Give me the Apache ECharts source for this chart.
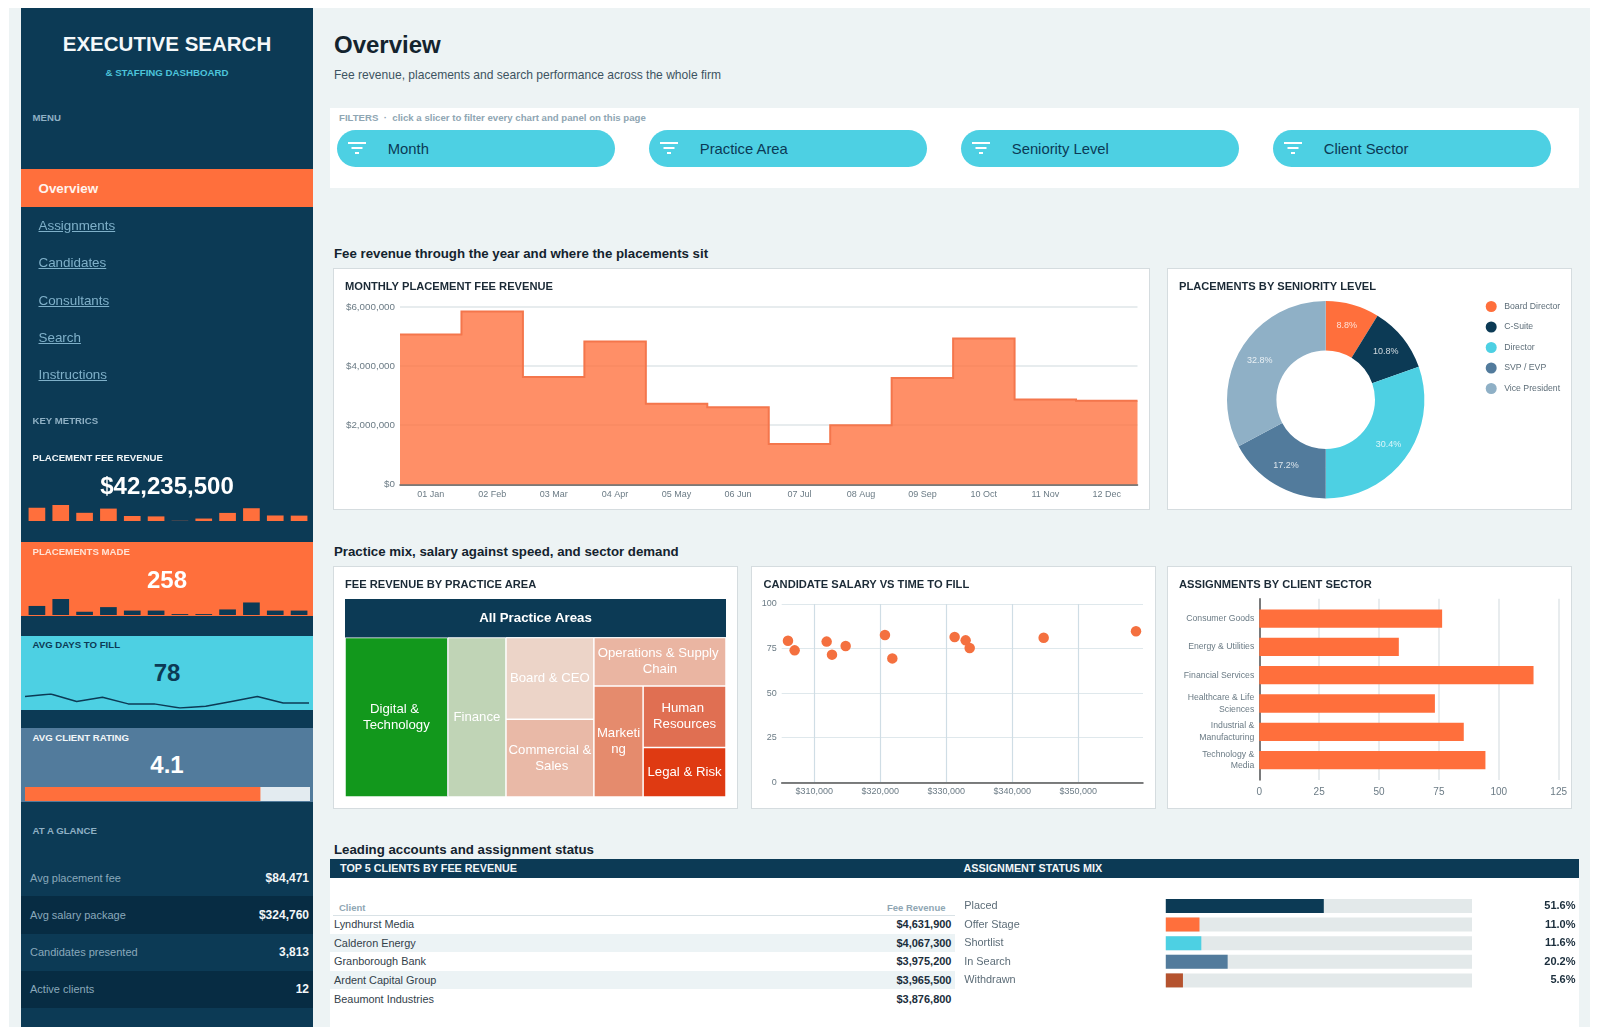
<!DOCTYPE html>
<html lang="en">
  <head>
    <meta charset="UTF-8" />
    <title>Executive Search Dashboard</title>
    <script src="https://cdn.jsdelivr.net/npm/echarts@6/dist/echarts.min.js"></script>
    <style>
      html,
      body {
        margin: 0;
        padding: 0;
        width: 1600px;
        height: 1036px;
        overflow: hidden;
        background: #fff;
        font-family: "Liberation Sans", Arial, sans-serif;
      }
      .box {
        position: absolute;
        box-sizing: border-box;
      }
      .chart {
        position: absolute;
      }
      /* line-height 0 puts the text's middle on "top", easier to line up */
      .t {
        position: absolute;
        line-height: 0;
        white-space: nowrap;
        z-index: 5;
      }
      .b {
        font-weight: bold;
      }
      .card {
        background: #fff;
        border: 1.5px solid #d5dcdf;
      }
      .cardtitle {
        font-size: 11.15px;
        font-weight: bold;
        color: #1b2a36;
      }
      .section {
        left: 334px;
        font-size: 13.25px;
        font-weight: bold;
        color: #14232e;
      }
      .navlink {
        left: 38.5px;
        font-size: 13.4px;
        color: #7fb0c9;
        text-decoration: underline;
      }
      .side {
        left: 32.5px;
        font-size: 9.65px;
        font-weight: bold;
        color: #8fb0c4;
      }
      .kpi {
        left: 21px;
        width: 292px;
        text-align: center;
        font-size: 24px;
        font-weight: bold;
        color: #fff;
      }
      .pill {
        background: #4dd0e3;
        border-radius: 19px;
        height: 37px;
        top: 130px;
        width: 278px;
      }
      .pilltext {
        top: 148.5px;
        font-size: 14.8px;
        color: #0b3a56;
      }
      .glabel {
        left: 30px;
        font-size: 11px;
        color: #8aa9bb;
      }
      .gvalue {
        right: 1291px;
        font-size: 12px;
        font-weight: bold;
        color: #f2f6f8;
      }
      .rowname {
        left: 334px;
        font-size: 10.9px;
        color: #33414a;
      }
      .rowvalue {
        right: 648.5px;
        font-size: 11px;
        font-weight: bold;
        color: #1b2e3c;
      }
    </style>
  </head>

  <body>
    <!-- page and sidebar -->
    <div class="box" style="left: 9px; top: 8px; width: 1581px; height: 1019px; background: #edf3f4"></div>
    <div class="box" style="left: 21px; top: 8px; width: 292px; height: 1019px; background: #0c3a55"></div>
    <div class="t b" style="left: 21px; width: 292px; text-align: center; top: 44px; font-size: 20.5px; color: #f4f8fa">EXECUTIVE SEARCH</div>
    <div class="t b" style="left: 21px; width: 292px; text-align: center; top: 73px; font-size: 9.7px; color: #4dc4da">&amp; STAFFING DASHBOARD</div>
    <div class="t side" style="top: 117.5px">MENU</div>
    <div class="box" style="left: 21px; top: 169px; width: 292px; height: 38px; background: #ff6f3c"></div>
    <div class="t b" style="left: 38.5px; top: 188.5px; font-size: 13.4px; color: #fff3ec">Overview</div>
    <div id="nav"></div>

    <div class="t side" style="top: 420.5px">KEY METRICS</div>
    <div class="t side" style="top: 458px; color: #f2f6f8">PLACEMENT FEE REVENUE</div>
    <div class="t kpi" style="top: 486px">$42,235,500</div>
    <div class="chart" id="sparkRevenue" style="left: 24.5px; top: 505px; width: 285.6px; height: 16px"></div>

    <div class="box" style="left: 21px; top: 541.6px; width: 292px; height: 74.6px; background: #ff6f3c"></div>
    <div class="t side" style="top: 552px; color: #ffe3d6">PLACEMENTS MADE</div>
    <div class="t kpi" style="top: 580px">258</div>
    <div class="chart" id="sparkPlacements" style="left: 24.5px; top: 598.5px; width: 285.6px; height: 16px"></div>

    <div class="box" style="left: 21px; top: 635.5px; width: 292px; height: 74px; background: #4dd0e3"></div>
    <div class="t side" style="top: 644.5px; color: #0c3a55">AVG DAYS TO FILL</div>
    <div class="t kpi" style="top: 672.5px; color: #0c3a55">78</div>
    <div class="chart" id="sparkDays" style="left: 24.7px; top: 690px; width: 284.3px; height: 20px"></div>

    <div class="box" style="left: 21px; top: 728px; width: 292px; height: 73.5px; background: #527b9c"></div>
    <div class="t side" style="top: 737.5px; color: #f2f6f8">AVG CLIENT RATING</div>
    <div class="t kpi" style="top: 765px">4.1</div>
    <div class="chart" id="ratingBar" style="left: 24.7px; top: 787px; width: 285px; height: 14px"></div>

    <div class="t side" style="top: 830.5px">AT A GLANCE</div>
    <div class="box" style="left: 21px; top: 896px; width: 292px; height: 37.5px; background: #072c43"></div>
    <div class="box" style="left: 21px; top: 971px; width: 292px; height: 37px; background: #072c43"></div>
    <div id="glance"></div>

    <!-- header and filters -->
    <div class="t b" style="left: 334px; top: 44.5px; font-size: 24px; color: #14232e">Overview</div>
    <div class="t" style="left: 334px; top: 74.5px; font-size: 12.05px; color: #3d5361">Fee revenue, placements and search performance across the whole firm</div>
    <div class="box" style="left: 330px; top: 108px; width: 1248.6px; height: 80px; background: #fff"></div>
    <div class="t b" style="left: 339px; top: 117.5px; font-size: 9.65px; color: #8fa6b3">FILTERS &nbsp;·&nbsp; click a slicer to filter every chart and panel on this page</div>
    <div id="pills"></div>

    <div class="t section" style="top: 253.5px">Fee revenue through the year and where the placements sit</div>
    <div class="box card" style="left: 332.5px; top: 267.5px; width: 817.5px; height: 242.5px"></div>
    <div class="t cardtitle" style="left: 345px; top: 286px">MONTHLY PLACEMENT FEE REVENUE</div>
    <div class="chart" id="monthly" style="left: 333px; top: 268px; width: 816px; height: 241px"></div>

    <div class="box card" style="left: 1166.5px; top: 267.5px; width: 405px; height: 242.5px"></div>
    <div class="t cardtitle" style="left: 1179px; top: 286px">PLACEMENTS BY SENIORITY LEVEL</div>
    <div class="chart" id="seniority" style="left: 1167px; top: 268px; width: 403px; height: 241px"></div>

    <div class="t section" style="top: 551.5px">Practice mix, salary against speed, and sector demand</div>
    <div class="box card" style="left: 332.5px; top: 565.5px; width: 405px; height: 243.5px"></div>
    <div class="t cardtitle" style="left: 345px; top: 584px">FEE REVENUE BY PRACTICE AREA</div>
    <div class="chart" id="practice" style="left: 345px; top: 599px; width: 381px; height: 198px"></div>

    <div class="box card" style="left: 750.5px; top: 565.5px; width: 405px; height: 243.5px"></div>
    <div class="t cardtitle" style="left: 763.5px; top: 584px">CANDIDATE SALARY VS TIME TO FILL</div>
    <div class="chart" id="salary" style="left: 751px; top: 566px; width: 403px; height: 242px"></div>

    <div class="box card" style="left: 1166.5px; top: 565.5px; width: 405px; height: 243.5px"></div>
    <div class="t cardtitle" style="left: 1179px; top: 584px">ASSIGNMENTS BY CLIENT SECTOR</div>
    <div class="chart" id="sector" style="left: 1167px; top: 566px; width: 403px; height: 242px"></div>

    <!-- bottom tables -->
    <div class="t section" style="top: 849.5px">Leading accounts and assignment status</div>
    <div class="box" style="left: 330px; top: 859px; width: 1248.6px; height: 168px; background: #fff"></div>
    <div class="box" style="left: 330px; top: 859px; width: 1248.6px; height: 18.5px; background: #0c3a55"></div>
    <div class="t b" style="left: 340px; top: 868.2px; font-size: 10.8px; color: #f2f6f8">TOP 5 CLIENTS BY FEE REVENUE</div>
    <div class="t b" style="left: 963.5px; top: 868.2px; font-size: 10.8px; color: #f2f6f8">ASSIGNMENT STATUS MIX</div>
    <div class="t b" style="left: 339px; top: 907.5px; font-size: 9.5px; color: #8fa6b3">Client</div>
    <div class="t b" style="right: 654.5px; top: 907.5px; font-size: 9.5px; color: #8fa6b3">Fee Revenue</div>
    <div class="box" style="left: 333px; top: 915px; width: 622px; height: 1px; background: #d9e2e6"></div>
    <div class="box" style="left: 330px; top: 934px; width: 625px; height: 18px; background: #ecf3f5"></div>
    <div class="box" style="left: 330px; top: 971px; width: 625px; height: 18px; background: #ecf3f5"></div>
    <div id="clients"></div>
    <div class="chart" id="status" style="left: 960px; top: 890px; width: 620px; height: 110px"></div>

    <script>
      const navLinks = ["Assignments", "Candidates", "Consultants", "Search", "Instructions"];
      const glanceLabels = ["Avg placement fee", "Avg salary package", "Candidates presented", "Active clients"];
      const glanceValues = ["$84,471", "$324,760", "3,813", "12"];
      const filterNames = ["Month", "Practice Area", "Seniority Level", "Client Sector"];

      const monthLabels = ["01 Jan", "02 Feb", "03 Mar", "04 Apr", "05 May", "06 Jun", "07 Jul", "08 Aug", "09 Sep", "10 Oct", "11 Nov", "12 Dec"];
      const monthlyRevenue = [5070000, 5850000, 3630000, 4830000, 2730000, 2610000, 1360000, 2000000, 3600000, 4930000, 2870000, 2830000];
      const monthlyPlacements = [24, 30, 19, 23, 20, 20, 17, 17, 21, 27, 20, 20];
      const monthlyDays = [84, 87, 78, 83, 75, 75, 70, 72, 78, 84, 76, 76];
      const avgRating = 4.13;
      const ratingMax = 5;

      const seniorityNames = ["Board Director", "C-Suite", "Director", "SVP / EVP", "Vice President"];
      const seniorityShare = [8.8, 10.8, 30.4, 17.2, 32.8];

      const practiceNames = ["Digital & Technology", "Finance", "Board & CEO", "Commercial & Sales", "Operations & Supply Chain", "Marketing", "Human Resources", "Legal & Risk"];
      const practiceRevenue = [11400000, 6450000, 5000000, 4750000, 4450000, 3800000, 3550000, 2850000];

      const salaryPoints = [
        [306010, 79.4],
        [307020, 74.0],
        [311870, 78.9],
        [312680, 71.6],
        [314750, 76.4],
        [320700, 82.6],
        [321820, 69.5],
        [331260, 81.5],
        [332930, 79.6],
        [333540, 75.3],
        [344750, 81.1],
        [358740, 84.7],
      ];
      const salaryTicks = [310000, 320000, 330000, 340000, 350000];

      const sectorNames = ["Consumer Goods", "Energy & Utilities", "Financial Services", "Healthcare & Life\nSciences", "Industrial &\nManufacturing", "Technology &\nMedia"];
      const sectorAssignments = [76, 58, 114, 73, 85, 94];

      const clientNames = ["Lyndhurst Media", "Calderon Energy", "Granborough Bank", "Ardent Capital Group", "Beaumont Industries"];
      const clientRevenue = [4631900, 4067300, 3975200, 3965500, 3876800];

      const statusNames = ["Placed", "Offer Stage", "Shortlist", "In Search", "Withdrawn"];
      const statusShare = [51.6, 11.0, 11.6, 20.2, 5.6];

      const NAVY = "#0c3a55";
      const ORANGE = "#ff6f3c";
      const CYAN = "#4dd0e3";
      const SLATE = "#527b9c";
      const MIST = "#8fb0c6";
      const FONT = "Liberation Sans";
      const AXIS_TEXT = "#6b7b85";
      const practiceColors = ["#12981c", "#c0d4b6", "#ecd4c8", "#e9b9a7", "#eab5a2", "#e58b6d", "#e06f52", "#df3a12"];
      const statusColors = [NAVY, ORANGE, CYAN, SLATE, "#b5532f"];

      function addText(parent, cls, style, text) {
        const el = document.createElement("div");
        el.className = cls;
        el.style.cssText = style;
        el.textContent = text;
        parent.appendChild(el);
      }

      // sidebar and table text
      const navEl = document.getElementById("nav");
      const navY = [225.5, 262.5, 300.5, 337.5, 375];
      navLinks.forEach((n, i) => addText(navEl, "t navlink", "top:" + navY[i] + "px", n));

      const glanceEl = document.getElementById("glance");
      glanceLabels.forEach((n, i) => {
        const y = 878 + i * 37;
        addText(glanceEl, "t glabel", "top:" + y + "px", n);
        addText(glanceEl, "t gvalue", "top:" + y + "px", glanceValues[i]);
      });

      const pillsEl = document.getElementById("pills");
      filterNames.forEach((n, i) => {
        const x = 336.8 + i * 312;
        addText(pillsEl, "box pill", "left:" + x + "px", "");
        addText(pillsEl, "t pilltext", "left:" + (x + 51) + "px", n);
        pillsEl.insertAdjacentHTML(
          "beforeend",
          '<svg class="box" style="left:' + (x + 11) + 'px;top:142px;z-index:5" width="19" height="13">' +
            '<g stroke="#fff" stroke-width="2"><path d="M0 1H18"/><path d="M3.5 6H14.5"/><path d="M7 11H11"/></g></svg>'
        );
      });

      const clientsEl = document.getElementById("clients");
      clientNames.forEach((n, i) => {
        const y = 924.3 + i * 18.55;
        addText(clientsEl, "t rowname", "top:" + y + "px", n);
        addText(clientsEl, "t rowvalue", "top:" + y + "px", "$" + clientRevenue[i].toLocaleString("en-US"));
      });

      function makeChart(id, option) {
        const chart = echarts.init(document.getElementById(id));
        chart.setOption(Object.assign({ animation: false, textStyle: { fontFamily: FONT } }, option));
        return chart;
      }

      function sparkBars(id, values, color, min) {
        makeChart(id, {
          grid: { left: 0, right: 0, top: 0, bottom: 0 },
          xAxis: { type: "category", data: monthLabels, show: false },
          yAxis: { type: "value", show: false, min: min, max: Math.max(...values) },
          series: [{ type: "bar", data: values, barCategoryGap: "30%", itemStyle: { color: color } }],
        });
      }
      sparkBars("sparkRevenue", monthlyRevenue, ORANGE, 1300000);
      sparkBars("sparkPlacements", monthlyPlacements, NAVY, 16.2);

      makeChart("sparkDays", {
        grid: { left: 0, right: 0, top: 4, bottom: 2 },
        xAxis: { type: "category", data: monthLabels, show: false, boundaryGap: false },
        yAxis: { type: "value", show: false, min: 70, max: 87 },
        series: [{ type: "line", data: monthlyDays, symbol: "none", lineStyle: { color: NAVY, width: 1.5 } }],
      });

      makeChart("ratingBar", {
        grid: { left: 0, right: 0, top: 0, bottom: 0 },
        xAxis: { type: "value", show: false, min: 0, max: ratingMax },
        yAxis: { type: "category", show: false, data: ["Rating"] },
        series: [
          {
            type: "bar",
            data: [avgRating],
            barWidth: 14,
            itemStyle: { color: ORANGE },
            showBackground: true,
            backgroundStyle: { color: "#e3ebf0" },
          },
        ],
      });

      // step area: each month fills its whole band, so a line series can't do it.
      // everything is drawn on the first item so the fill has no seams
      function renderStep(params, api) {
        if (params.dataIndex > 0) return null;
        const band = api.size([1, 0])[0];
        const outline = [];
        monthlyRevenue.forEach((v, i) => {
          const c = api.coord([i, v]);
          outline.push([c[0] - band / 2, c[1]], [c[0] + band / 2, c[1]]);
        });
        const base = api.coord([0, 0])[1];
        const first = outline[0][0];
        const last = outline[outline.length - 1][0];
        return {
          type: "group",
          children: [
            {
              type: "polygon",
              shape: { points: [[first, base]].concat(outline, [[last, base]]) },
              style: { fill: "rgba(255,111,60,0.78)" },
            },
            {
              type: "polyline",
              shape: { points: outline },
              style: { fill: null, stroke: "#f4764c", lineWidth: 2 },
            },
          ],
        };
      }

      makeChart("monthly", {
        grid: { left: 67, top: 39, width: 737.5, height: 177.3 },
        xAxis: {
          type: "category",
          data: monthLabels,
          axisLine: { lineStyle: { color: "#555", width: 1.5 } },
          axisTick: { show: false },
          axisLabel: { color: AXIS_TEXT, fontSize: 9, margin: 6 },
        },
        yAxis: {
          type: "value",
          min: 0,
          max: 6000000,
          interval: 2000000,
          axisLine: { show: false },
          axisTick: { show: false },
          axisLabel: { color: AXIS_TEXT, fontSize: 9.8, margin: 5, formatter: (v) => "$" + v.toLocaleString("en-US") },
          splitLine: { lineStyle: { color: "#dfe6e9", width: 1.5 } },
        },
        series: [
          {
            type: "custom",
            renderItem: renderStep,
            encode: { x: 0, y: 1 },
            data: monthlyRevenue.map((v, i) => [i, v]),
          },
        ],
      });

      makeChart("seniority", {
        legend: {
          orient: "vertical",
          left: 318.7,
          top: 33,
          padding: 0,
          icon: "circle",
          itemWidth: 16,
          itemHeight: 11,
          itemGap: 9.5,
          textStyle: { color: "#5d6d78", fontSize: 8.7 },
          data: seniorityNames,
        },
        color: [ORANGE, NAVY, CYAN, SLATE, MIST],
        series: [
          {
            type: "pie",
            center: [158.7, 131.7],
            radius: [49.3, 98.7],
            startAngle: 90,
            data: seniorityNames.map((n, i) => ({ name: n, value: seniorityShare[i] })),
            label: { position: "inside", formatter: "{c}%", color: "rgba(255,255,255,0.8)", fontSize: 9 },
            labelLine: { show: false },
          },
        ],
      });

      // squarify would pack these differently, so the cells are nested two at a time
      function practiceNode(i) {
        return {
          name: practiceNames[i],
          value: practiceRevenue[i],
          itemStyle: { color: practiceColors[i], borderColor: "#fff", borderWidth: 0.75 },
        };
      }
      function practiceGroup(a, b) {
        return {
          name: a.name + " / " + b.name,
          value: a.value + b.value,
          itemStyle: { gapWidth: 0, borderWidth: 0, borderColor: "#fff" },
          children: [a, b],
        };
      }
      const legalGroup = practiceGroup(practiceNode(6), practiceNode(7));
      const marketingGroup = practiceGroup(practiceNode(5), legalGroup);
      const opsGroup = practiceGroup(practiceNode(4), marketingGroup);
      const boardGroup = practiceGroup(practiceNode(2), practiceNode(3));
      const rightGroup = practiceGroup(boardGroup, opsGroup);
      const financeGroup = practiceGroup(practiceNode(1), rightGroup);

      makeChart("practice", {
        series: [
          {
            type: "treemap",
            left: 0,
            right: 0,
            top: 0,
            bottom: 0,
            sort: false,
            squareRatio: 1,
            roam: false,
            nodeClick: false,
            breadcrumb: { show: false },
            label: {
              show: true,
              color: "#fff",
              fontSize: 13.2,
              padding: 1,
              overflow: "break",
              lineHeight: 16,
              align: "center",
              verticalAlign: "middle",
              position: "inside",
              formatter: "{b}",
            },
            itemStyle: { borderWidth: 0, gapWidth: 0 },
            data: [
              {
                name: "All Practice Areas",
                value: 42235500,
                itemStyle: { color: NAVY, gapWidth: 0, borderWidth: 0, borderColor: NAVY },
                upperLabel: {
                  show: true,
                  height: 38.5,
                  position: ["50%", "50%"],
                  color: "#fff",
                  fontSize: 13.25,
                  fontWeight: "bold",
                  align: "center",
                  verticalAlign: "middle",
                },
                children: [practiceNode(0), financeGroup],
              },
            ],
          },
        ],
      });

      makeChart("salary", {
        grid: { left: 30.7, top: 38, width: 361.3, height: 178.3 },
        xAxis: {
          type: "value",
          min: 305060,
          max: 359800,
          axisLine: { onZero: false, lineStyle: { color: "#555", width: 1.5 } },
          axisTick: { show: false, customValues: salaryTicks },
          axisLabel: {
            color: AXIS_TEXT,
            fontSize: 9,
            margin: 5,
            customValues: salaryTicks,
            formatter: (v) => "$" + v.toLocaleString("en-US"),
          },
          splitLine: { lineStyle: { color: "#cfdde5", width: 1.2 } },
        },
        yAxis: {
          type: "value",
          min: 0,
          max: 100,
          interval: 25,
          axisLine: { show: false },
          axisTick: { show: false },
          axisLabel: { color: AXIS_TEXT, fontSize: 9, margin: 5 },
          splitLine: { lineStyle: { color: "#dfe8ec", width: 1.2 } },
        },
        series: [
          {
            type: "scatter",
            data: salaryPoints,
            symbolSize: 10.5,
            itemStyle: { color: "#f4703f", opacity: 1 },
          },
        ],
      });

      // outer grid carries gridlines and the tall axis line, inner grid carries the bars
      const sectorValueAxis = { type: "value", min: 0, max: 125, interval: 25 };
      makeChart("sector", {
        grid: [
          { left: 92.3, top: 32.7, width: 300.7, height: 181.3 },
          { left: 92.3, top: 38.5, width: 300.7, height: 169.7 },
        ],
        xAxis: [
          Object.assign({}, sectorValueAxis, {
            gridIndex: 0,
            axisLine: { show: false },
            axisTick: { show: false },
            axisLabel: { color: AXIS_TEXT, fontSize: 10, margin: 7 },
            splitLine: { lineStyle: { color: "#e1e6e8", width: 1.5 } },
          }),
          Object.assign({}, sectorValueAxis, { gridIndex: 1, show: false }),
        ],
        yAxis: [
          {
            type: "category",
            gridIndex: 0,
            data: [""],
            axisLine: { lineStyle: { color: "#555", width: 1.5 } },
            axisTick: { show: false },
            axisLabel: { show: false },
          },
          {
            type: "category",
            gridIndex: 1,
            inverse: true,
            data: sectorNames,
            axisLine: { show: false },
            axisTick: { show: false },
            axisLabel: {
              color: AXIS_TEXT,
              fontSize: 8.7,
              margin: 5,
              lineHeight: 11.5,
              align: "right",
            },
          },
        ],
        series: [
          {
            type: "bar",
            xAxisIndex: 1,
            yAxisIndex: 1,
            data: sectorAssignments,
            barWidth: 18.3,
            itemStyle: { color: ORANGE },
          },
        ],
      });

      makeChart("status", {
        grid: { left: 205.8, top: 6.7, width: 306.2, height: 93 },
        xAxis: { type: "value", show: false, min: 0, max: 100 },
        yAxis: [
          {
            type: "category",
            inverse: true,
            data: statusNames,
            axisLine: { show: false },
            axisTick: { show: false },
            axisLabel: { color: "#5d6d78", fontSize: 10.9, align: "left", margin: 201.6 },
          },
          {
            type: "category",
            inverse: true,
            position: "right",
            data: statusShare.map((v) => v.toFixed(1) + "%"),
            axisLine: { show: false },
            axisTick: { show: false },
            axisLabel: { color: "#1b2e3c", fontSize: 11, fontWeight: "bold", align: "right", margin: 103.5 },
          },
        ],
        series: [
          {
            type: "bar",
            data: statusShare.map((v, i) => ({ value: v, itemStyle: { color: statusColors[i] } })),
            barWidth: 14,
            showBackground: true,
            backgroundStyle: { color: "#e3e9ea" },
          },
        ],
      });
    </script>
  </body>
</html>
